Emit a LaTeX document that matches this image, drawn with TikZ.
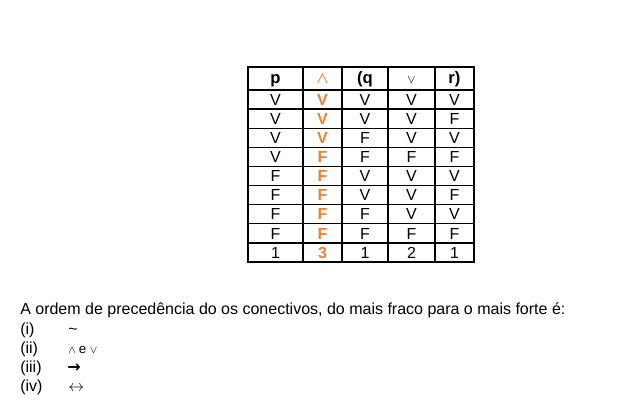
\documentclass[tikz,border=0pt]{standalone}
\usepackage{amsmath}
\usepackage{fontspec}
\setmainfont{Liberation Sans}
\newfontfamily\simbolos{DejaVu Sans}
\definecolor{laranja}{RGB}{240,125,50}

\begin{document}
\begin{tikzpicture}[x=0.75pt,y=-0.75pt,font=\fontsize{12}{14}\selectfont,
  grade/.style={line width=1pt},
  cel/.style={inner sep=0pt,anchor=base},
  cab/.style={inner sep=0pt,anchor=base,font=\fontsize{12.5}{14}\selectfont\bfseries},
  res/.style={inner sep=0pt,anchor=base,text=laranja,font=\fontsize{12}{14}\selectfont\bfseries},
  txt/.style={anchor=base west,inner sep=0pt}]
\useasboundingbox (0,0) rectangle (624,413);
% tabela
\draw[grade] (248,67) rectangle (474,262);
\foreach \x in {303,342,388,435}
  \draw[grade] (\x,67) -- (\x,262);
\draw[grade] (248,90) -- (474,90);
\foreach \k in {1,...,8}
  \draw[grade] (248,{90+19.11*\k}) -- (474,{90+19.11*\k});
% cabecalho
\node[cab] (hp) at (275.5,84) {p};
\node[res] (he) at (322.5,84) {$\boldsymbol{\wedge}$};
\node[cab] (hq) at (365,84) {(q};
\node[cel] (ho) at (411.5,84) {\small$\vee$};
\node[cab] (hr) at (454.5,84) {r)};
% valores
\foreach \colp/\cole/\colq/\colo/\colr [count=\i] in
  {V/V/V/V/V,V/V/V/V/F,V/V/F/V/V,V/F/F/F/F,F/F/V/V/V,F/F/V/V/F,F/F/F/V/V,F/F/F/F/F,1/3/1/2/1}
{
  \node[cel] (p\i) at (275.5,{90+19.11*(\i-0.5)+5.7}) {\colp};
  \node[res] (e\i) at (322.5,{90+19.11*(\i-0.5)+5.7}) {\cole};
  \node[cel] (q\i) at (365,{90+19.11*(\i-0.5)+5.7}) {\colq};
  \node[cel] (o\i) at (411.5,{90+19.11*(\i-0.5)+5.7}) {\colo};
  \node[cel] (r\i) at (454.5,{90+19.11*(\i-0.5)+5.7}) {\colr};
}
% texto
\node[txt] (frase) at (20,314.5) {A ordem de precedência do os conectivos, do mais fraco para o mais forte é:};
\node[txt] (n1) at (20,334) {(i)};
\node[txt] (s1) at (68,334) {\textasciitilde};
\node[txt] (n2) at (20,353) {(ii)};
\node[txt] (s2) at (68,353) {\footnotesize$\wedge$ \normalsize e \footnotesize$\vee$};
\node[txt] (n3) at (20,372) {(iii)};
\node[txt] (s3) at (67,372) {\simbolos\bfseries →};
\node[txt] (n4) at (20,391) {(iv)};
\node[txt] (s4) at (68,391) {$\leftrightarrow$};
\end{tikzpicture}
\end{document}
